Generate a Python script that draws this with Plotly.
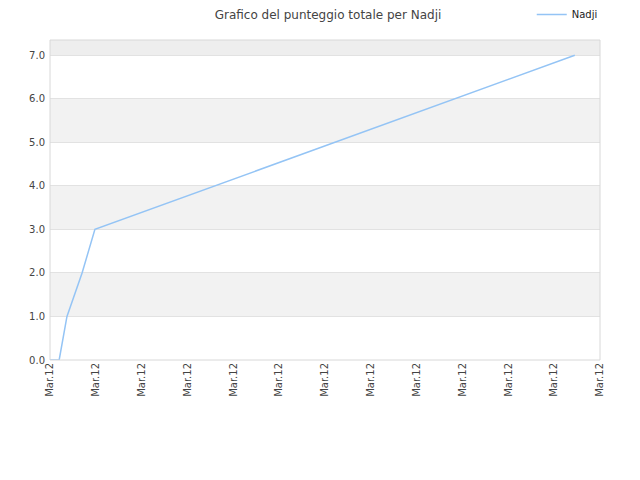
import plotly.graph_objects as go

# posizioni temporali (unità = intervallo tra i tick) e punteggio totale
tempo = [0, 0.2, 0.37, 0.7, 0.98, 11.45]
punteggio = [0, 0, 1, 2, 3, 7]
tick_pos = list(range(13))
tick_lab = ["Mar.12"] * 13
y_ticks = [0, 1, 2, 3, 4, 5, 6, 7]

fig = go.Figure(go.Scatter(
    x=tempo, y=punteggio, mode="lines", name="Nadji",
    line=dict(color="#94c4f5", width=1.5)
))

# bande alternate di sfondo
bands = []
for lo, hi, col in [(1, 2, "#f2f2f2"), (3, 4, "#f2f2f2"), (5, 6, "#f2f2f2"), (7, 7.35, "#eeeeee")]:
    bands.append(dict(type="rect", xref="paper", yref="y", x0=0, x1=1, y0=lo, y1=hi,
                      fillcolor=col, line_width=0, layer="below"))
bands.append(dict(type="rect", xref="paper", yref="paper", x0=0, x1=1, y0=0, y1=1,
                  line=dict(color="#d8d8d8", width=1), layer="above"))

# la pagina ha un margine di 8px: margini ridotti di conseguenza
fig.update_layout(
    width=640, height=480,
    title=dict(text="Grafico del punteggio totale per Nadji", x=0.5, y=0.985,
               yanchor="middle",
               font=dict(family="DejaVu Sans", size=12, color="#444")),
    font=dict(family="DejaVu Sans", size=10, color="#444"),
    plot_bgcolor="white", paper_bgcolor="white",
    margin=dict(l=42, r=48, t=32, b=128, autoexpand=False),
    shapes=bands,
    showlegend=True,
    legend=dict(x=1.005, y=1.08, xanchor="right", yanchor="middle", itemwidth=30,
                font=dict(size=10, color="#222"), bgcolor="rgba(0,0,0,0)"),
    xaxis=dict(range=[0, 12], tickvals=tick_pos, ticktext=tick_lab, tickangle=-90,
               showgrid=False, zeroline=False, ticks="", ticklen=0),
    yaxis=dict(range=[0, 7.35], tickvals=y_ticks, tickformat=".1f",
               gridcolor="#e2e2e2", zeroline=False, ticks="", ticklen=0,
               ticklabelstandoff=4),
)

fig.write_html("out.html")
